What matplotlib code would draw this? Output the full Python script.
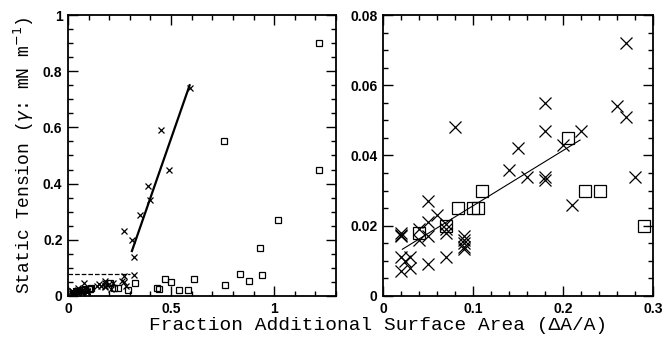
import matplotlib
matplotlib.use("Agg")
import matplotlib.pyplot as plt
from matplotlib.ticker import MultipleLocator

# zoomed data (right panel, also drawn inside dashed box on left)
cross_x = [0.02, 0.02, 0.02, 0.02, 0.02, 0.025, 0.03, 0.03, 0.04, 0.04, 0.05, 0.05,
           0.05, 0.05, 0.06, 0.07, 0.07, 0.07, 0.07, 0.08, 0.09, 0.09, 0.09, 0.09,
           0.09, 0.14, 0.15, 0.16, 0.18, 0.18, 0.18, 0.18, 0.2, 0.21, 0.22, 0.26,
           0.27, 0.27, 0.28]
cross_y = [0.018, 0.017, 0.0175, 0.011, 0.007, 0.010, 0.011, 0.008, 0.019, 0.016,
           0.027, 0.021, 0.017, 0.009, 0.023, 0.0205, 0.019, 0.018, 0.011, 0.048,
           0.017, 0.016, 0.015, 0.014, 0.0135, 0.036, 0.042, 0.034, 0.055, 0.047,
           0.034, 0.033, 0.043, 0.026, 0.047, 0.054, 0.072, 0.051, 0.034]
sq_x = [0.04, 0.07, 0.083, 0.10, 0.106, 0.11, 0.206, 0.224, 0.241, 0.29]
sq_y = [0.018, 0.020, 0.025, 0.025, 0.025, 0.030, 0.045, 0.030, 0.030, 0.020]

# points outside the zoomed region (left panel only)
big_cross_x = [0.27, 0.31, 0.32, 0.32, 0.35, 0.39, 0.40, 0.45, 0.49, 0.59]
big_cross_y = [0.23, 0.20, 0.14, 0.075, 0.29, 0.39, 0.34, 0.59, 0.45, 0.74]
big_sq_x = [0.325, 0.43, 0.44, 0.47, 0.50, 0.54, 0.58, 0.61, 0.755, 0.76, 0.835,
            0.88, 0.93, 0.94, 1.02, 1.22, 1.22]
big_sq_y = [0.045, 0.03, 0.025, 0.06, 0.05, 0.02, 0.02, 0.06, 0.55, 0.04, 0.078,
            0.055, 0.17, 0.075, 0.27, 0.90, 0.45]

# fitted lines
fit_big_x = [0.31, 0.59]
fit_big_y = [0.16, 0.75]
fit_small_x = [0.0215, 0.219]
fit_small_y = [0.0133, 0.0444]

tick_font = {"family": "Liberation Sans", "weight": "bold", "size": 10}
label_font = {"family": "Liberation Mono", "size": 14}

fig = plt.figure(figsize=(6.64, 3.41), dpi=100)
ax1 = fig.add_axes([0.1024, 0.132, 0.4036, 0.824])
ax2 = fig.add_axes([0.5768, 0.132, 0.4066, 0.824])

# left panel
ax1.plot(cross_x + big_cross_x, cross_y + big_cross_y, "x", color="black",
         ms=4.5, mew=0.9)
ax1.plot(sq_x + big_sq_x, sq_y + big_sq_y, "s", mfc="none", mec="black",
         ms=5, mew=0.9)
ax1.plot(fit_big_x, fit_big_y, color="black", lw=1.6)
ax1.plot([0, 0.3], [0.08, 0.08], "--", color="black", lw=0.9)
ax1.set_xlim(0, 1.3)
ax1.set_ylim(0, 1)
ax1.xaxis.set_minor_locator(MultipleLocator(0.1))
ax1.yaxis.set_minor_locator(MultipleLocator(0.05))
ax1.set_xticks([0, 0.5, 1])
ax1.set_xticklabels(["0", "0.5", "1"], fontdict=tick_font)
ax1.set_yticks([0, 0.2, 0.4, 0.6, 0.8, 1])
ax1.set_yticklabels(["0", "0.2", "0.4", "0.6", "0.8", "1"], fontdict=tick_font)
ax1.set_ylabel(r"Static Tension ($\gamma$: mN m$^{-1}$)", family="Liberation Mono",
               size=13, labelpad=5)

# right panel
ax2.plot(cross_x, cross_y, "x", color="black", ms=9, mew=0.9)
ax2.plot(sq_x, sq_y, "s", mfc="none", mec="black", ms=9, mew=0.9)
ax2.plot(fit_small_x, fit_small_y, color="black", lw=0.8)
ax2.set_xlim(0, 0.3)
ax2.set_ylim(0, 0.08)
ax2.xaxis.set_minor_locator(MultipleLocator(0.02))
ax2.yaxis.set_minor_locator(MultipleLocator(0.005))
ax2.set_xticks([0, 0.1, 0.2, 0.3])
ax2.set_xticklabels(["0", "0.1", "0.2", "0.3"], fontdict=tick_font)
ax2.set_yticks([0, 0.02, 0.04, 0.06, 0.08])
ax2.set_yticklabels(["0", "0.02", "0.04", "0.06", "0.08"], fontdict=tick_font)

for ax in (ax1, ax2):
    ax.tick_params(which="both", direction="in", top=True, right=True, width=1)
    ax.tick_params(which="major", length=7, pad=4)
    ax.tick_params(which="minor", length=3.5)
    for s in ax.spines.values():
        s.set_linewidth(1.3)

fig.text(0.57, 0.02, "Fraction Additional Surface Area (\u0394A/A)",
         ha="center", va="bottom", fontdict=label_font)

fig.savefig("out.png", dpi=100)
